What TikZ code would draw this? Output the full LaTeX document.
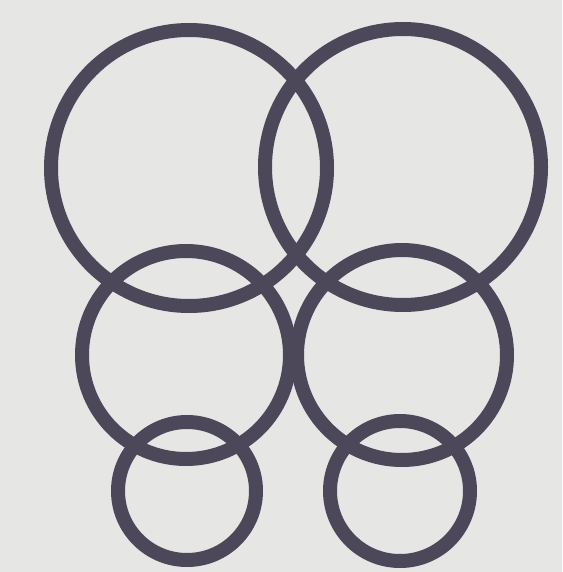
\documentclass[tikz,border=0pt]{standalone}
\begin{document}
\begin{tikzpicture}[x=1pt,y=-1pt,
  ring/.style={draw=ringcol,line width=14pt}]
\definecolor{ringcol}{HTML}{4C4859}
\definecolor{bgcol}{HTML}{E6E6E4}
\fill[bgcol] (0,0) rectangle (562,572);
\useasboundingbox (0,0) rectangle (562,572);
\draw[ring] (189,168) circle (138);
\draw[ring] (403,167) circle (138);
\draw[ring] (186,355) circle (104);
\draw[ring] (402,355) circle (105);
\draw[ring] (187,491) circle (69);
\draw[ring] (400,491) circle (70);
\end{tikzpicture}
\end{document}
